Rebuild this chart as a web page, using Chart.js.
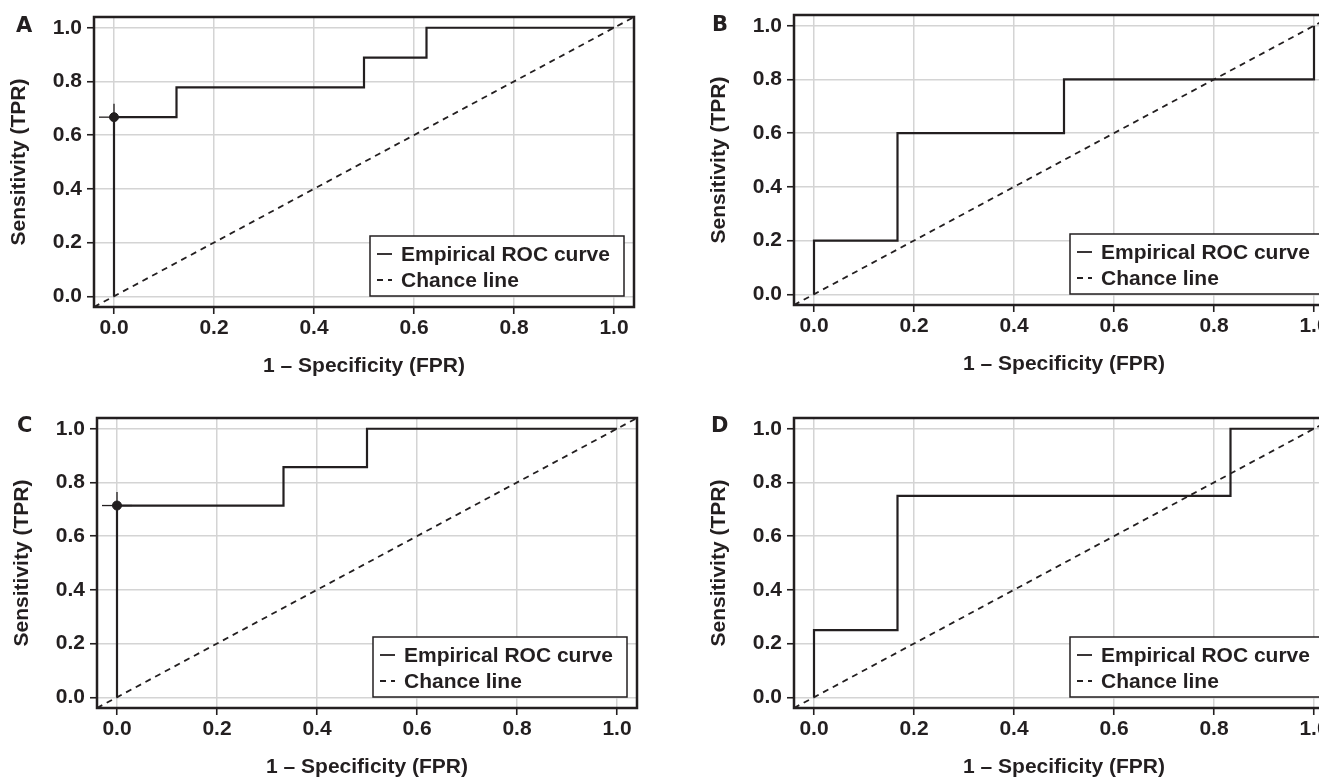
<!DOCTYPE html>
<html>
<head>
<meta charset="utf-8">
<title>ROC curves</title>
<script src="https://cdn.jsdelivr.net/npm/chart.js@4.4.0/dist/chart.umd.min.js"></script>
<style>
  html, body { margin: 0; padding: 0; background: #fff; }
  body { width: 1319px; height: 779px; position: relative; overflow: hidden; }
  .panel { position: absolute; width: 660px; height: 390px; }
  .tag { position: absolute; font: bold 21px "DejaVu Sans", sans-serif; line-height: 21px; color: #231f20; }
</style>
</head>
<body>
<div class="panel" style="left:0px;top:0px"><canvas id="chartA"></canvas></div>
<div class="panel" style="left:700px;top:-2px"><canvas id="chartB"></canvas></div>
<div class="panel" style="left:3px;top:401px"><canvas id="chartC"></canvas></div>
<div class="panel" style="left:700px;top:401px"><canvas id="chartD"></canvas></div>
<div class="tag" style="left:16px;top:15px">A</div>
<div class="tag" style="left:712px;top:14px">B</div>
<div class="tag" style="left:17px;top:415px">C</div>
<div class="tag" style="left:711px;top:415px">D</div>
<script>
/* Data: kurva ROC empiris tiap panel (titik sudut tangga) */
const tickValues = [0, 0.2, 0.4, 0.6, 0.8, 1.0];
const chanceLine = [-0.04, 1.04];

const fprA = [0, 0, 0.125, 0.125, 0.5, 0.5, 0.625, 0.625, 1];
const tprA = [0, 0.667, 0.667, 0.778, 0.778, 0.889, 0.889, 1, 1];
const cutA = [0, 0.667];

const fprB = [0, 0, 0.167, 0.167, 0.5, 0.5, 1, 1];
const tprB = [0, 0.2, 0.2, 0.6, 0.6, 0.8, 0.8, 1];

const fprC = [0, 0, 0.333, 0.333, 0.5, 0.5, 1];
const tprC = [0, 0.714, 0.714, 0.857, 0.857, 1, 1];
const cutC = [0, 0.714];

const fprD = [0, 0, 0.167, 0.167, 0.833, 0.833, 1];
const tprD = [0, 0.25, 0.25, 0.75, 0.75, 1, 1];

/* lengan silang di titik cut-off (fpr, tpr) */
const crossArm = [0.03, 0.05];

const ink = '#231f20';
const gridColor = '#d4d4d4';

Chart.defaults.font.family = '"Liberation Sans", Arial, sans-serif';
Chart.defaults.font.weight = 'bold';
Chart.defaults.font.size = 21;
Chart.defaults.color = ink;

/* Bingkai plot + legenda di dalam area plot */
const framePlugin = {
    id: 'frame',
    afterDraw(chart) {
        const ctx = chart.ctx;
        const a = chart.chartArea;
        ctx.save();

        const w = 254, h = 60;
        const bx = a.right - 10 - w;
        const by = a.bottom - 11 - h;
        ctx.fillStyle = '#fff';
        ctx.fillRect(bx, by, w, h);
        ctx.strokeStyle = ink;
        ctx.lineWidth = 1.5;
        ctx.strokeRect(bx, by, w, h);

        [0, 1].forEach(function (i) {
            const ds = chart.data.datasets[i];
            const ry = by + 18 + i * 26;
            ctx.beginPath();
            ctx.setLineDash(ds.borderDash || []);
            ctx.lineWidth = 1.8;
            ctx.moveTo(bx + 7, ry);
            ctx.lineTo(bx + 22, ry);
            ctx.stroke();
            ctx.setLineDash([]);
            ctx.fillStyle = ink;
            ctx.font = 'bold 21px "Liberation Sans", Arial, sans-serif';
            ctx.textBaseline = 'middle';
            ctx.fillText(ds.label, bx + 31, ry + 1);
        });

        ctx.lineWidth = 2.5;
        ctx.strokeRect(a.left, a.top, a.right - a.left, a.bottom - a.top);
        ctx.restore();
    }
};

function axis(titleText, isX) {
    return {
        type: 'linear',
        min: -0.04,
        max: 1.04,
        afterBuildTicks: function (s) { s.ticks = tickValues.map(v => ({ value: v })); },
        afterFit: function (s) { if (isX) { s.height = 83; } else { s.width = 94; } },
        grid: { color: gridColor, lineWidth: 1.5, tickLength: 7, tickColor: ink, tickWidth: 1.6 },
        border: { display: false },
        ticks: {
            color: ink,
            padding: isX ? 4 : 5,
            autoSkip: false,
            maxRotation: 0,
            font: { size: 21, weight: 'bold', lineHeight: 1 },
            callback: v => v.toFixed(1)
        },
        title: {
            display: true,
            text: titleText,
            color: ink,
            font: { size: 21, weight: 'bold' },
            padding: isX ? { top: 0, bottom: 11 } : { top: 7, bottom: 0 }
        }
    };
}

function makeChart(id, fpr, tpr, cut) {
    const datasets = [{
        label: 'Empirical ROC curve',
        data: fpr.map((x, i) => ({ x: x, y: tpr[i] })),
        showLine: true,
        borderColor: ink,
        borderWidth: 2.2,
        pointRadius: 0
    }, {
        label: 'Chance line',
        data: chanceLine.map(v => ({ x: v, y: v })),
        showLine: true,
        borderColor: ink,
        borderWidth: 1.8,
        borderDash: [6, 5],
        pointRadius: 0
    }];

    if (cut) {
        datasets.push({
            label: 'cut-x',
            data: [{ x: cut[0] - crossArm[0], y: cut[1] }, { x: cut[0] + crossArm[0], y: cut[1] }],
            showLine: true, borderColor: ink, borderWidth: 1.3, pointRadius: 0
        });
        datasets.push({
            label: 'cut-y',
            data: [{ x: cut[0], y: cut[1] - crossArm[1] }, { x: cut[0], y: cut[1] + crossArm[1] }],
            showLine: true, borderColor: ink, borderWidth: 1.3, pointRadius: 0
        });
        datasets.push({
            label: 'cut',
            data: [{ x: cut[0], y: cut[1] }],
            showLine: false, pointRadius: 4.5, pointBackgroundColor: ink, pointBorderColor: ink
        });
    }

    new Chart(document.getElementById(id), {
        type: 'scatter',
        data: { datasets: datasets },
        options: {
            responsive: true,
            maintainAspectRatio: false,
            animation: false,
            layout: { padding: { top: 17, right: 26, left: 0, bottom: 0 } },
            plugins: { legend: { display: false }, tooltip: { enabled: false } },
            scales: {
                x: axis('1 – Specificity (FPR)', true),
                y: axis('Sensitivity (TPR)', false)
            }
        },
        plugins: [framePlugin]
    });
}

makeChart('chartA', fprA, tprA, cutA);
makeChart('chartB', fprB, tprB, null);
makeChart('chartC', fprC, tprC, cutC);
makeChart('chartD', fprD, tprD, null);
</script>
</body>
</html>
